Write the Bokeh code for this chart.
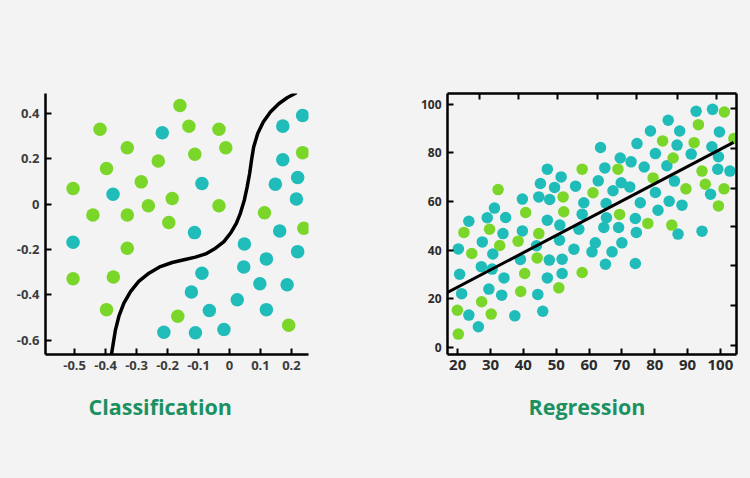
from bokeh.plotting import figure
from bokeh.models import Range1d, FixedTicker, LinearAxis, Title
from bokeh.layouts import row
from bokeh.embed import file_html
from bokeh.resources import INLINE

# ---------------- data: classification ----------------
cls_green_x = [-0.160, -0.418, -0.131, -0.034, -0.330, -0.012, -0.112, -0.230, -0.397, -0.285,
               -0.505, -0.185, -0.262, -0.034, -0.441, -0.330, -0.196, -0.330, -0.505, -0.375,
               -0.397, -0.167, 0.191, 0.113, 0.240, 0.236]
cls_green_y = [0.435, 0.330, 0.343, 0.330, 0.249, 0.249, 0.220, 0.190, 0.157, 0.098,
               0.069, 0.025, -0.007, -0.007, -0.048, -0.048, -0.081, -0.195, -0.330, -0.322,
               -0.466, -0.495, -0.535, -0.038, -0.107, 0.227]
cls_teal_x = [-0.217, -0.089, -0.376, -0.113, -0.505, -0.089, -0.123, -0.065, -0.212, -0.110,
              -0.018, 0.025, 0.048, 0.046, 0.119, 0.098, 0.119, 0.186, 0.162, 0.220,
              0.148, 0.220, 0.216, 0.172, 0.172, 0.236]
cls_teal_y = [0.315, 0.091, 0.043, -0.126, -0.169, -0.305, -0.388, -0.470, -0.566, -0.568,
              -0.554, -0.422, -0.176, -0.278, -0.242, -0.352, -0.466, -0.356, -0.119, -0.210,
              0.088, 0.117, 0.022, 0.196, 0.344, 0.391]
boundary_x = [-0.381, -0.375, -0.368, -0.357, -0.341, -0.319, -0.293, -0.260, -0.223, -0.185,
              -0.147, -0.110, -0.077, -0.045, -0.018, 0.003, 0.022, 0.035, 0.048, 0.057,
              0.065, 0.071, 0.078, 0.091, 0.109, 0.132, 0.159, 0.186, 0.213]
boundary_y = [-0.664, -0.612, -0.554, -0.495, -0.437, -0.385, -0.341, -0.305, -0.276, -0.258,
              -0.246, -0.234, -0.220, -0.195, -0.166, -0.129, -0.085, -0.041, 0.018, 0.076,
              0.135, 0.193, 0.252, 0.311, 0.362, 0.406, 0.443, 0.469, 0.489]
cls_xticks = [-0.5, -0.4, -0.3, -0.2, -0.1, 0, 0.1, 0.2]
cls_xlabels = ["-0.5", "-0.4", "-0.3", "-0.2", "-0.1", "0", "0.1", "0.2"]
cls_yticks = [-0.6, -0.4, -0.2, 0, 0.2, 0.4]
cls_ylabels = ["-0.6", "-0.4", "-0.2", "0", "0.2", "0.4"]
cls_title = "Classification"

# ---------------- data: regression ----------------
reg_green_x = [57.9, 61.2, 32.3, 52.1, 52.3, 40.7, 21.9, 29.7, 44.7, 38.4,
               32.8, 24.3, 44.2, 40.4, 57.9, 50.8, 39.2, 27.3, 19.9, 30.2,
               20.2, 101.2, 93.3, 104.1, 82.4, 92.0, 85.6, 68.8, 94.4, 79.5,
               95.4, 89.5, 101.1, 99.4, 69.3, 77.9, 85.2]
reg_green_y = [73.3, 63.6, 64.9, 61.9, 55.8, 55.5, 47.3, 48.6, 46.8, 43.7,
               41.9, 38.6, 36.8, 30.4, 30.8, 24.5, 23.0, 18.8, 15.3, 13.7,
               5.5, 96.8, 91.6, 85.9, 84.9, 84.2, 77.9, 73.3, 72.5, 69.7,
               67.1, 65.2, 65.2, 58.2, 54.7, 51.0, 50.3]
reg_teal_x = [47.3, 51.5, 45.2, 49.5, 55.9, 44.7, 48.0, 39.7, 58.4, 31.2,
              57.9, 34.6, 29.0, 23.4, 47.3, 51.1, 33.8, 39.7, 56.9, 27.5,
              51.0, 44.0, 20.2, 30.7, 55.4, 60.9, 39.1, 47.9, 51.8, 27.2,
              30.5, 20.6, 51.8, 34.1, 47.3, 29.5, 33.4, 44.4, 21.2, 23.4,
              37.4, 45.9, 26.3,
              92.6, 97.6, 84.1, 78.7, 87.6, 99.7, 63.5, 74.6, 86.8, 97.4,
              80.2, 91.1, 99.4, 69.5, 72.8, 76.8, 83.7, 64.8, 99.2, 102.9,
              86.0, 62.8, 69.8, 72.4, 67.3, 80.2, 97.0, 65.2, 75.6, 84.4,
              88.3, 81.0, 65.3, 74.1, 64.5, 69.0, 74.4, 87.1, 94.4, 61.9,
              70.0, 67.0, 65.0, 74.1]
reg_teal_y = [73.3, 70.1, 67.4, 65.8, 66.3, 61.9, 60.8, 61.0, 59.5, 57.3,
              54.8, 53.4, 53.3, 51.9, 52.3, 50.3, 46.8, 47.9, 48.6, 43.4,
              44.1, 41.8, 40.5, 38.4, 40.4, 39.3, 36.2, 35.9, 36.3, 33.2,
              32.2, 30.1, 30.4, 28.6, 28.6, 24.0, 21.5, 21.8, 22.1, 13.3,
              13.0, 14.9, 8.5,
              97.1, 97.9, 93.4, 89.0, 89.0, 88.6, 82.2, 83.8, 83.2, 82.5,
              79.7, 79.5, 78.4, 77.9, 76.3, 74.2, 74.7, 73.8, 73.3, 72.5,
              68.4, 68.5, 67.7, 66.0, 64.4, 63.7, 63.0, 59.2, 59.5, 60.1,
              58.5, 56.4, 53.3, 53.0, 49.3, 49.3, 47.3, 46.6, 47.8, 43.0,
              43.0, 39.3, 34.2, 34.5]
fit_x = [16.9, 104.0]
fit_y = [22.6, 84.3]
reg_xticks = [20, 30, 40, 50, 60, 70, 80, 90, 100]
reg_yticks = [0, 20, 40, 60, 80, 100]
reg_top_ticks = [26.5, 38.6, 50.5, 62.5, 74.6, 86.8, 98.7]
reg_right_ticks = [0.9, 17.4, 33.8, 49.9, 65.5, 81.9, 98.4]
reg_title = "Regression"

# ---------------- style ----------------
BG = "#f3f3f3"
GREEN = "#7bd62a"
TEAL = "#1fbcb9"
TITLE_COLOR = "#1b9161"
FONT = "Open Sans"


def style_axis(ax, size, color="#333333"):
    ax.axis_line_color = "black"
    ax.axis_line_width = 2.5
    ax.major_tick_line_color = "black"
    ax.major_tick_line_width = 2
    ax.major_tick_in = 6
    ax.major_tick_out = 0
    ax.minor_tick_line_color = None
    ax.major_label_text_font = FONT
    ax.major_label_text_font_size = size
    ax.major_label_text_font_style = "bold"
    ax.major_label_text_color = color
    ax.major_label_standoff = 6


def make_title(text, offset, standoff):
    return Title(text=text, align="left", offset=offset, standoff=standoff,
                 text_font=FONT, text_font_style="bold", text_font_size="21.5px",
                 text_color=TITLE_COLOR)


# ---------------- left: classification ----------------
p1 = figure(width=408, height=476,
            x_range=Range1d(-0.594, 0.255), y_range=Range1d(-0.664, 0.488),
            output_backend="svg", toolbar_location=None,
            min_border_left=45, min_border_right=100,
            min_border_top=93, min_border_bottom=121,
            background_fill_color=BG, border_fill_color=BG,
            outline_line_color=None)
p1.grid.visible = False
p1.xaxis.ticker = FixedTicker(ticks=cls_xticks)
p1.yaxis.ticker = FixedTicker(ticks=cls_yticks)
p1.xaxis.major_label_overrides = dict(zip(cls_xticks, cls_xlabels))
p1.yaxis.major_label_overrides = dict(zip(cls_yticks, cls_ylabels))
for ax in p1.xaxis + p1.yaxis:
    style_axis(ax, "13px", "#3c3c3c")

p1.scatter(cls_teal_x, cls_teal_y, size=13.5, color=TEAL, line_color=None)
p1.scatter(cls_green_x, cls_green_y, size=13.5, color=GREEN, line_color=None)
p1.line(boundary_x, boundary_y, line_color="black", line_width=3.5,
        line_cap="round", line_join="round")
p1.add_layout(make_title(cls_title, 43, 34), "below")

# ---------------- right: regression ----------------
p2 = figure(width=342, height=476,
            x_range=Range1d(16.9, 104.9), y_range=Range1d(-2.9, 104.4),
            output_backend="svg", toolbar_location=None,
            min_border_left=39, min_border_right=14,
            min_border_top=93, min_border_bottom=122,
            background_fill_color=BG, border_fill_color=BG,
            outline_line_color=None)
p2.grid.visible = False
p2.xaxis.ticker = FixedTicker(ticks=reg_xticks)
p2.yaxis.ticker = FixedTicker(ticks=reg_yticks)
style_axis(p2.xaxis[0], "15px", "#2b2b2b")
style_axis(p2.yaxis[0], "12px", "#2b2b2b")
p2.xaxis[0].major_label_standoff = 5

top_axis = LinearAxis(ticker=FixedTicker(ticks=reg_top_ticks))
right_axis = LinearAxis(ticker=FixedTicker(ticks=reg_right_ticks))
for ax in (top_axis, right_axis):
    style_axis(ax, "0px")
    ax.major_label_standoff = 0
    ax.major_label_text_color = None
p2.add_layout(top_axis, "above")
p2.add_layout(right_axis, "right")

p2.scatter(reg_teal_x, reg_teal_y, size=11.5, color=TEAL, line_color=None)
p2.scatter(reg_green_x, reg_green_y, size=11.5, color=GREEN, line_color=None)
p2.line(fit_x, fit_y, line_color="black", line_width=3)
p2.add_layout(make_title(reg_title, 81, 34), "below")

layout = row(p1, p2)
html = file_html(layout, INLINE)
html = html.replace("<body>", '<body style="background-color:%s">' % BG)
open("out.html", "w").write(html)
